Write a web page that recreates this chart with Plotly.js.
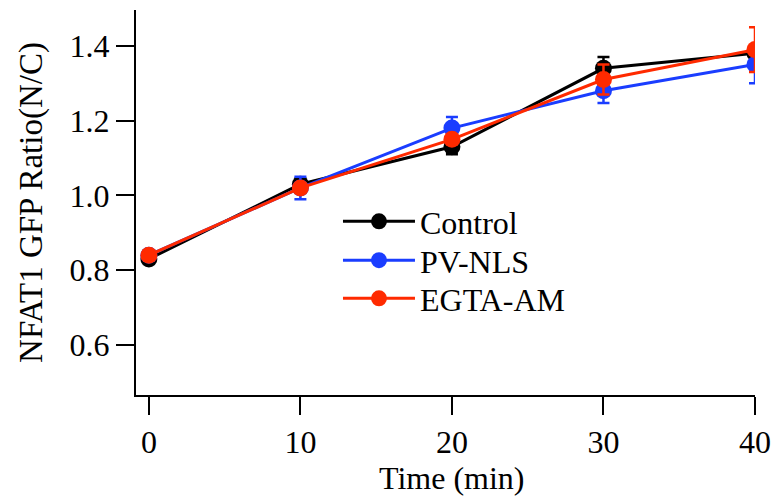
<!DOCTYPE html>
<html>
<head>
<meta charset="utf-8">
<script src="https://cdn.plot.ly/plotly-3.0.1.min.js"></script>
<style>html,body{margin:0;padding:0;background:#fff;}#chart{width:774px;height:501px;}</style>
</head>
<body>
<div id="chart"></div>
<script>
// Data
const timeMin = [0, 10, 20, 30, 40];
const controlMean = [0.83, 1.03, 1.13, 1.34, 1.38];
const controlErr  = [0.01, 0.015, 0.02, 0.03, 0.01];
const pvnlsMean   = [0.84, 1.02, 1.18, 1.28, 1.35];
const pvnlsErr    = [0.01, 0.03, 0.03, 0.033, 0.05];
const egtaMean    = [0.84, 1.02, 1.15, 1.31, 1.39];
const egtaErr     = [0.01, 0.01, 0.01, 0.04, 0.06];
const seriesNames = ['Control', 'PV-NLS', 'EGTA-AM'];
const xTickVals = [0, 10, 20, 30, 40];
const yTickVals = [0.6, 0.8, 1.0, 1.2, 1.4];
const yTickText = ['0.6', '0.8', '1.0', '1.2', '1.4'];
const xTitle = 'Time (min)';
const yTitle = 'NFAT1 GFP Ratio(N/C)';

const colors = ['#000000', '#1a3dff', '#ff2a00'];
const means = [controlMean, pvnlsMean, egtaMean];
const errs = [controlErr, pvnlsErr, egtaErr];
const legendIds = ['legend', 'legend2', 'legend3'];

const traces = means.map((m, i) => ({
  type: 'scatter',
  mode: 'lines+markers',
  name: seriesNames[i],
  legend: legendIds[i],
  x: timeMin,
  y: m,
  line: {color: colors[i], width: 3},
  marker: {color: colors[i], size: 17, symbol: 'circle'},
  error_y: {type: 'data', array: errs[i], visible: true, color: colors[i], thickness: 2.5, width: 6}
}));

const fam = '"Liberation Serif", "Times New Roman", serif';
const font = {family: fam, size: 32, color: '#000'};

function leg(y) {
  return {
    x: 0.3263, y: y, xanchor: 'left', yanchor: 'top',
    bgcolor: 'rgba(0,0,0,0)', font: font, itemwidth: 72
  };
}

const layout = {
  width: 774,
  height: 501,
  margin: {l: 136, r: 19, t: 10, b: 106},
  paper_bgcolor: '#fff',
  plot_bgcolor: '#fff',
  font: font,
  showlegend: true,
  legend: leg(0.522),
  legend2: leg(0.421),
  legend3: leg(0.322),
  annotations: [{
    text: xTitle, xref: 'paper', yref: 'paper',
    x: 0.5097, y: -0.2156, xanchor: 'center', yanchor: 'middle',
    showarrow: false, font: font
  }],
  xaxis: {
    range: [-0.85, 40],
    tickvals: xTickVals,
    ticks: 'outside', ticklen: 18, tickwidth: 2, tickcolor: '#000',
    showline: true, linecolor: '#000', linewidth: 2,
    showgrid: false, zeroline: false,
    tickfont: font,
    automargin: false
  },
  yaxis: {
    range: [0.466, 1.496],
    tickvals: yTickVals,
    ticktext: yTickText,
    ticks: 'outside', ticklen: 18, tickwidth: 2, tickcolor: '#000',
    showline: true, linecolor: '#000', linewidth: 2,
    showgrid: false, zeroline: false,
    tickfont: font,
    title: {text: yTitle, font: {family: fam, size: 33, color: '#000'}, standoff: 17},
    automargin: false
  }
};

Plotly.newPlot('chart', traces, layout, {displayModeBar: false, staticPlot: true});
</script>
</body>
</html>
